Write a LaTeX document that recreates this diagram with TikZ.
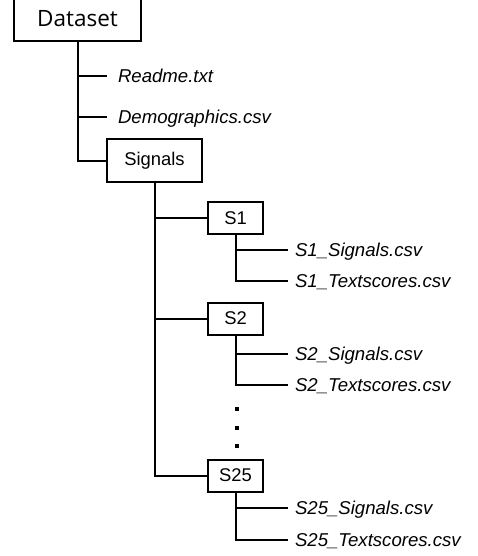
\documentclass[tikz,border=0pt]{standalone}
\usepackage{fontspec}
\setmainfont{Liberation Sans}
\newfontfamily\titlefont{Open Sans}

\begin{document}
\begin{tikzpicture}[x=0.5pt,y=-0.5pt,line width=1pt,box/.style={draw,rectangle,inner sep=0pt,font=\fontsize{9.2}{11}\selectfont},leaf/.style={anchor=west,inner xsep=3pt,inner ysep=0pt,text height=6.6pt,text depth=0pt,font=\fontsize{9.3}{11}\selectfont\itshape},dotmark/.style={fill,rectangle,inner sep=0pt,minimum size=1.8pt}]
\useasboundingbox (0,0) rectangle (477,556);
\node[box,minimum width=63.5pt,minimum height=22pt,font=\titlefont\fontsize{11.25}{13}\selectfont] (dataset) at (77.5,19) {Dataset};
\node[leaf,inner xsep=5pt] (readme) at (107,76) {Readme.txt};
\node[leaf,inner xsep=5pt] (demo) at (107,117) {Demographics.csv};
\node[box,minimum width=47.5pt,minimum height=21.5pt] (signals) at (154.5,160.5) {Signals};
\draw (dataset.south |- readme.west) -- (readme.west);
\draw (dataset.south |- demo.west) -- (demo.west);
\draw (dataset.south) |- (signals.west);
\foreach \n/\y/\a/\b in %
{1/218/250/281,2/318.5/354/385,25/475.5/508/540} {
   \node[box,minimum width=27.5pt,minimum height=16pt] (s\n) at (235.5,\y) {S\n};
   \node[leaf] (sig\n) at (288,\a) {S\n\_Signals.csv};
   \node[leaf] (txt\n) at (288,\b) {S\n\_Textscores.csv};
   \draw (signals.south) |- (s\n.west);
   \draw (s\n.south) |- (sig\n.west);
   \draw (s\n.south) |- (txt\n.west);
}
\foreach \i/\y in %
{1/409,2/428,3/446} {
   \node[dotmark] (dot\i) at (237,\y) {};
}
\end{tikzpicture}
\end{document}
